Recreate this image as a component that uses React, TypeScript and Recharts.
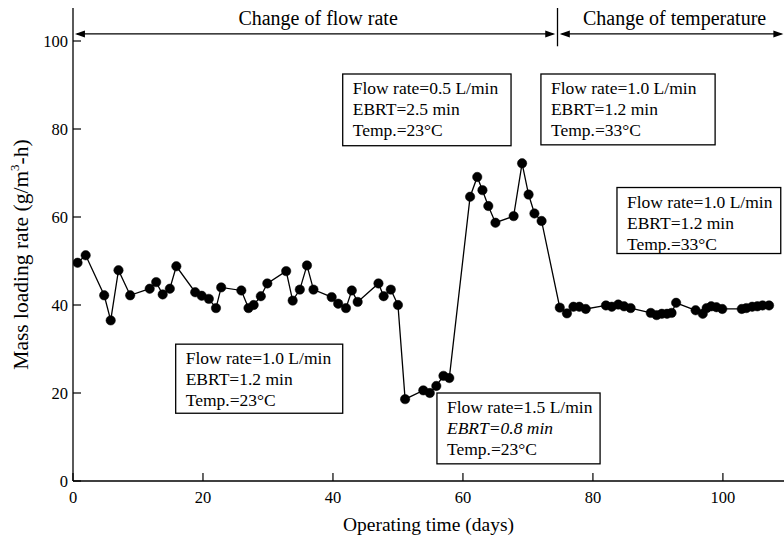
import React from 'react';
import { LineChart, Line, XAxis, YAxis, ReferenceArea, ReferenceLine } from 'recharts';

const days = [0.7, 1.95, 4.8, 5.8, 7, 8.8, 11.8, 12.8, 13.8, 14.9, 15.9, 18.8, 19.8, 20.9, 22, 22.8, 25.9, 27, 27.8, 28.9, 29.9, 32.8, 33.8, 34.9, 36, 37, 39.8, 40.8, 42, 42.9, 43.8, 47, 47.8, 48.9, 50, 51.1, 53.9, 54.9, 55.9, 57, 57.9, 61.1, 62.2, 63, 63.9, 65, 67.8, 69.1, 70.1, 71, 72.1, 74.9, 76, 77, 77.9, 78.9, 82, 82.9, 83.9, 84.8, 85.8, 88.9, 89.8, 90.6, 91.4, 92.1, 92.8, 95.8, 96.9, 97.5, 98.2, 99, 99.9, 102.9, 103.6, 104.5, 105.3, 106.1, 107.1];
const loading = [49.6, 51.3, 42.2, 36.5, 47.9, 42.2, 43.7, 45.2, 42.4, 43.7, 48.8, 42.9, 42.1, 41.4, 39.3, 44, 43.3, 39.3, 40, 42, 44.9, 47.7, 41, 43.5, 49, 43.5, 41.8, 40.3, 39.3, 43.3, 40.7, 44.9, 42, 43.5, 40, 18.6, 20.6, 20, 21.6, 23.9, 23.4, 64.6, 69.1, 66.1, 62.5, 58.7, 60.2, 72.2, 65.1, 60.8, 59.1, 39.4, 38.1, 39.6, 39.6, 39.1, 39.9, 39.6, 40.1, 39.7, 39.3, 38.2, 37.7, 38, 38, 38.2, 40.5, 38.8, 38, 39.3, 39.7, 39.5, 39.1, 39.1, 39.3, 39.6, 39.7, 39.9, 39.9];

const xTicks = [0, 20, 40, 60, 80, 100];
const yTicks = [0, 20, 40, 60, 80, 100];

const xTitle = 'Operating time (days)';
const phaseLabels = ['Change of flow rate', 'Change of temperature'];

// annotation boxes: [x1, x2, y1, y2] in data units, and their text lines
const boxes = [
  { x1: 41.5, x2: 67.4, y1: 76.2, y2: 92.5, lines: ['Flow rate=0.5 L/min', 'EBRT=2.5 min', 'Temp.=23°C'], italic: -1 },
  { x1: 72.0, x2: 98.8, y1: 76.4, y2: 92.5, lines: ['Flow rate=1.0 L/min', 'EBRT=1.2 min', 'Temp.=33°C'], italic: -1 },
  { x1: 83.7, x2: 108.9, y1: 51.7, y2: 66.7, lines: ['Flow rate=1.0 L/min', 'EBRT=1.2 min', 'Temp.=33°C'], italic: -1 },
  { x1: 15.8, x2: 41.5, y1: 15.4, y2: 31.1, lines: ['Flow rate=1.0 L/min', 'EBRT=1.2 min', 'Temp.=23°C'], italic: -1 },
  { x1: 56.0, x2: 81.1, y1: 3.9, y2: 20.0, lines: ['Flow rate=1.5 L/min', 'EBRT=0.8 min', 'Temp.=23°C'], italic: 1 },
];

const data = days.map((d, i) => ({ day: d, rate: loading[i] }));

const FONT = '"Liberation Serif", "Times New Roman", serif';

const XTick = (props: any) => {
  const { x, y, payload } = props;
  return (
    <g>
      <line x1={x} y1={y} x2={x} y2={y - 8} stroke="#000" strokeWidth={1.2} />
      <text x={x} y={y + 22} textAnchor="middle" fontFamily={FONT} fontSize={16.5} fill="#000">
        {payload.value}
      </text>
    </g>
  );
};

const YTick = (props: any) => {
  const { x, y, payload } = props;
  return (
    <g>
      <line x1={x} y1={y} x2={x + 8} y2={y} stroke="#000" strokeWidth={1.2} />
      <text x={x - 5} y={y + 5.5} textAnchor="end" fontFamily={FONT} fontSize={16.5} fill="#000">
        {payload.value}
      </text>
    </g>
  );
};

const renderYLabel = (props: any) => {
  const vb = props.viewBox || { x: 0, y: 8, width: 73, height: 473 };
  const cx = vb.x + 21;
  const cy = vb.y + vb.height / 2 + 10;
  return (
    <text
      x={cx}
      y={cy}
      transform={`rotate(-90 ${cx} ${cy})`}
      textAnchor="middle"
      dominantBaseline="central"
      fontFamily={FONT}
      fontSize={21.5}
      fill="#000"
    >
      <tspan>Mass loading rate (g/m</tspan>
      <tspan dy={-7} fontSize={13}>3</tspan>
      <tspan dy={7}>-h)</tspan>
    </text>
  );
};

const makeArrow = (label: string) => (props: any) => {
  const { x1, y1, x2, y2 } = props;
  const L = 10;
  const W = 3.5;
  return (
    <g>
      <line x1={x1 + 2} y1={y1} x2={x2 - 2} y2={y2} stroke="#000" strokeWidth={1.3} />
      <polygon points={`${x1},${y1} ${x1 + L},${y1 - W} ${x1 + L},${y1 + W}`} fill="#000" />
      <polygon points={`${x2},${y2} ${x2 - L},${y2 - W} ${x2 - L},${y2 + W}`} fill="#000" />
      <text x={(x1 + x2) / 2 + 3} y={y1 - 9} textAnchor="middle" fontFamily={FONT} fontSize={20} fill="#000">
        {label}
      </text>
    </g>
  );
};

const makeBox = (lines: string[], italic: number) => (props: any) => {
  const { x, y, width, height } = props;
  return (
    <g>
      <rect x={x} y={y} width={width} height={height} fill="#fff" stroke="#000" strokeWidth={1.3} />
      {lines.map((t, i) => (
        <text
          key={i}
          x={x + 10}
          y={y + 20 + i * 21}
          fontFamily={FONT}
          fontSize={17.5}
          fontStyle={i === italic ? 'italic' : 'normal'}
          fill="#000"
        >
          {t}
        </text>
      ))}
    </g>
  );
};

export default function App() {
  return (
    <div style={{ position: 'absolute', left: 0, top: 0, width: 784, height: 539, background: '#fff' }}>
      <LineChart width={784} height={539} data={data} margin={{ top: 8, right: 0, bottom: 0, left: 0 }}>
        <XAxis
          type="number"
          dataKey="day"
          domain={[0, 109.4]}
          ticks={xTicks}
          allowDataOverflow
          height={58}
          tickSize={0}
          tickMargin={0}
          tickLine={false}
          axisLine={{ stroke: '#000', strokeWidth: 1.3 }}
          tick={<XTick />}
          label={{ value: xTitle, position: 'insideBottom', offset: 8, fill: '#000', fontSize: 19.5, fontFamily: FONT }}
        />
        <YAxis
          type="number"
          domain={[0, 107.5]}
          ticks={yTicks}
          allowDataOverflow
          width={73}
          tickSize={0}
          tickMargin={0}
          tickLine={false}
          axisLine={{ stroke: '#000', strokeWidth: 1.3 }}
          tick={<YTick />}
          label={renderYLabel}
        />
        {boxes.map((b, i) => (
          <ReferenceArea
            key={i}
            x1={b.x1}
            x2={b.x2}
            y1={b.y1}
            y2={b.y2}
            ifOverflow="visible"
            shape={makeBox(b.lines, b.italic)}
          />
        ))}
        <ReferenceLine
          segment={[{ x: 0.3, y: 101.6 }, { x: 74.2, y: 101.6 }]}
          ifOverflow="visible"
          shape={makeArrow(phaseLabels[0])}
        />
        <ReferenceLine
          segment={[{ x: 74.9, y: 101.6 }, { x: 109.3, y: 101.6 }]}
          ifOverflow="visible"
          shape={makeArrow(phaseLabels[1])}
        />
        <ReferenceLine
          segment={[{ x: 74.55, y: 98.8 }, { x: 74.55, y: 107.5 }]}
          ifOverflow="visible"
          stroke="#000"
          strokeWidth={1.3}
        />
        <Line
          type="linear"
          dataKey="rate"
          stroke="#000"
          strokeWidth={1.3}
          dot={{ r: 4.7, fill: '#000', stroke: '#000', strokeWidth: 0.5 }}
          activeDot={false}
          isAnimationActive={false}
        />
      </LineChart>
    </div>
  );
}
